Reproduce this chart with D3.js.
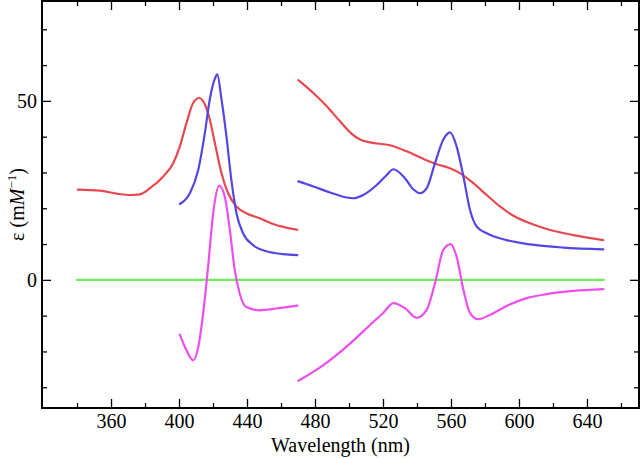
<!DOCTYPE html>
<html>
<head>
<meta charset="utf-8">
<script src="https://cdn.jsdelivr.net/npm/d3@7"></script>
<style>
    body { margin: 0; background: #fff; }
    svg { display: block; }
    svg text { font-family: "Liberation Serif", "Times New Roman", serif; fill: #000; }
    .tick text { font-size: 20px; }
    .tick line { stroke: #000; stroke-width: 1.3; }
    .curve { fill: none; stroke-width: 2.2; stroke-linejoin: round; stroke-linecap: round; }
</style>
</head>
<body>
<div id="chart"></div>
<script>
'use strict';

// Data
// Red, segment 1 (340-470 nm)
const redWl1 = [340.4, 353.5, 363.3, 371.2, 377, 382.9, 390.7, 396.6, 400.5, 404.4, 408.3, 411.9, 415.2, 418.1, 421.1, 425, 428.9, 433.8, 439.6, 447.5, 455.3, 463.1, 469.6];
const redEps1 = [25.2, 24.9, 24.1, 23.7, 23.9, 25.6, 28.9, 32.6, 37.3, 43.8, 49.4, 50.8, 49, 44.8, 38.2, 29.8, 24.2, 20.5, 18.6, 17.2, 15.6, 14.6, 14.0];
// Red, segment 2 (470-650 nm)
const redWl2 = [470.2, 479, 486.9, 494.7, 501.6, 506.5, 512.4, 524.1, 533.9, 543.7, 551.6, 559.4, 565.3, 573.1, 581, 588.8, 596.7, 606.5, 616.3, 632, 649.6];
const redEps2 = [55.8, 52.2, 48.5, 44.3, 40.8, 39.2, 38.4, 37.6, 35.9, 33.8, 32.3, 31.2, 29.8, 27, 23.7, 20.5, 17.9, 15.8, 14.2, 12.5, 11.1];

// Blue, segment 1 (400-470 nm)
const blueWl1 = [400.5, 406.4, 411.3, 415.2, 418.1, 421.1, 422.5, 425, 427.9, 430.8, 433.8, 437.7, 443.6, 451.4, 461.2, 469.6];
const blueEps1 = [21.2, 24.2, 30.7, 41, 50.4, 56.2, 57.4, 50.4, 40.1, 27.9, 18.6, 13, 9.7, 8, 7.2, 6.9];
// Blue, segment 2 (470-650 nm)
const blueWl2 = [470.2, 479, 488.8, 498.6, 502.5, 508.4, 516.3, 522.2, 526.1, 532.9, 537.8, 541.8, 545.7, 550.6, 555.5, 559.4, 563.3, 567.3, 571.2, 575.1, 581, 592.7, 606.5, 626.1, 649.6];
const blueEps2 = [27.5, 26.1, 24.4, 23, 22.8, 23.7, 26.5, 29.3, 30.9, 28.4, 25.3, 24.2, 25.6, 32.6, 39.2, 41.2, 37.3, 28.9, 19.5, 14.9, 13, 11.1, 9.9, 9, 8.5];

// Magenta, segment 1 (400-470 nm)
const magWl1 = [400.5, 404.4, 408.3, 411.3, 414.2, 417.1, 420.1, 423.6, 426.9, 429.9, 432.8, 435.7, 439.6, 447.5, 457.3, 469.6];
const magEps1 = [-15.3, -19.7, -22.5, -18.8, -9.4, 3.6, 18.6, 26.3, 23.3, 13.9, 2.7, -3.8, -7.6, -8.5, -8, -7.2];
// Magenta, segment 2 (470-650 nm)
const magWl2 = [470.2, 484.9, 500.6, 512.4, 520.2, 526.1, 532.9, 539.8, 545.7, 550.6, 555.5, 559.8, 563.3, 567.3, 571.2, 576.1, 582.9, 592.7, 604.5, 616.3, 632, 649.6];
const magEps2 = [-28.2, -23.8, -17.8, -12.6, -9.2, -6.5, -7.9, -10.6, -8.4, -0.9, 8.4, 10, 6.5, -2.8, -9.3, -11, -9.8, -7.3, -5.1, -4, -3.1, -2.6];

// Green baseline
const greenWl = [340, 650];
const greenEps = [0, 0];

// Ticks
const xMajor = [360, 400, 440, 480, 520, 560, 600, 640];
const xMinor = [340, 380, 420, 460, 500, 540, 580, 620, 660];
const yMajor = [0, 50];
const yMinor = [-30, -20, -10, 10, 20, 30, 40, 60, 70];

// Series list
const series = [
    {wl: redWl1, eps: redEps1, color: '#e8484f'},
    {wl: redWl2, eps: redEps2, color: '#e8484f'},
    {wl: blueWl1, eps: blueEps1, color: '#5546e2'},
    {wl: blueWl2, eps: blueEps2, color: '#5546e2'},
    {wl: greenWl, eps: greenEps, color: '#6cec5a'},
    {wl: magWl1, eps: magEps1, color: '#ee4eee'},
    {wl: magWl2, eps: magEps2, color: '#ee4eee'}
];

// Config svg
const w = 640, h = 458;
const m = {top: 1, right: 1, bottom: 50, left: 42};
const gW = w - m.left - m.right;
const gH = h - m.top - m.bottom;

const svg = d3.select('#chart')
    .append('svg')
    .attr('width', w)
    .attr('height', h);

const g = svg.append('g')
    .attr('transform', `translate(${m.left},${m.top})`);

// Scales
const x = d3.scaleLinear().domain([319.4, 670.6]).range([0, gW]);
const y = d3.scaleLinear().domain([-35.8, 77.9]).range([gH, 0]);

// Curves
const line = d3.line()
    .x(d => x(d[0]))
    .y(d => y(d[1]))
    .curve(d3.curveMonotoneX);

g.selectAll('.curve')
    .data(series)
    .join('path')
    .attr('class', 'curve')
    .attr('stroke', d => d.color)
    .attr('d', d => line(d.wl.map((v, i) => [v, d.eps[i]])));

// Axes (ticks point inward)
const axes = [
    {ax: d3.axisBottom(x).tickValues(xMajor).tickSize(-9).tickPadding(6), t: `translate(0,${gH})`},
    {ax: d3.axisBottom(x).tickValues(xMinor).tickSize(-5).tickFormat(''), t: `translate(0,${gH})`},
    {ax: d3.axisTop(x).tickValues(xMajor).tickSize(-9).tickFormat(''), t: 'translate(0,0)'},
    {ax: d3.axisTop(x).tickValues(xMinor).tickSize(-5).tickFormat(''), t: 'translate(0,0)'},
    {ax: d3.axisLeft(y).tickValues(yMajor).tickSize(-9).tickPadding(5), t: 'translate(0,0)'},
    {ax: d3.axisLeft(y).tickValues(yMinor).tickSize(-5).tickFormat(''), t: 'translate(0,0)'},
    {ax: d3.axisRight(y).tickValues(yMajor).tickSize(-9).tickFormat(''), t: `translate(${gW},0)`},
    {ax: d3.axisRight(y).tickValues(yMinor).tickSize(-5).tickFormat(''), t: `translate(${gW},0)`}
];
axes.forEach(a => {
    g.append('g')
        .attr('transform', a.t)
        .call(a.ax)
        .call(s => s.select('.domain').remove());
});

// Frame
g.append('rect')
    .attr('width', gW)
    .attr('height', gH)
    .attr('fill', 'none')
    .attr('stroke', '#000')
    .attr('stroke-width', 2);

// Axis titles
g.append('text')
    .attr('x', gW / 2)
    .attr('y', gH + 44)
    .attr('text-anchor', 'middle')
    .style('font-size', '20px')
    .text('Wavelength (nm)');

const yt = g.append('text')
    .attr('transform', `translate(-18,${gH / 2}) rotate(-90)`)
    .attr('text-anchor', 'middle')
    .style('font-size', '20px');
yt.append('tspan').text('ε (m');
yt.append('tspan').style('font-style', 'italic').text('M');
yt.append('tspan').attr('dy', -8).style('font-size', '13px').text('−1');
yt.append('tspan').attr('dy', 8).text(')');
</script>
</body>
</html>
